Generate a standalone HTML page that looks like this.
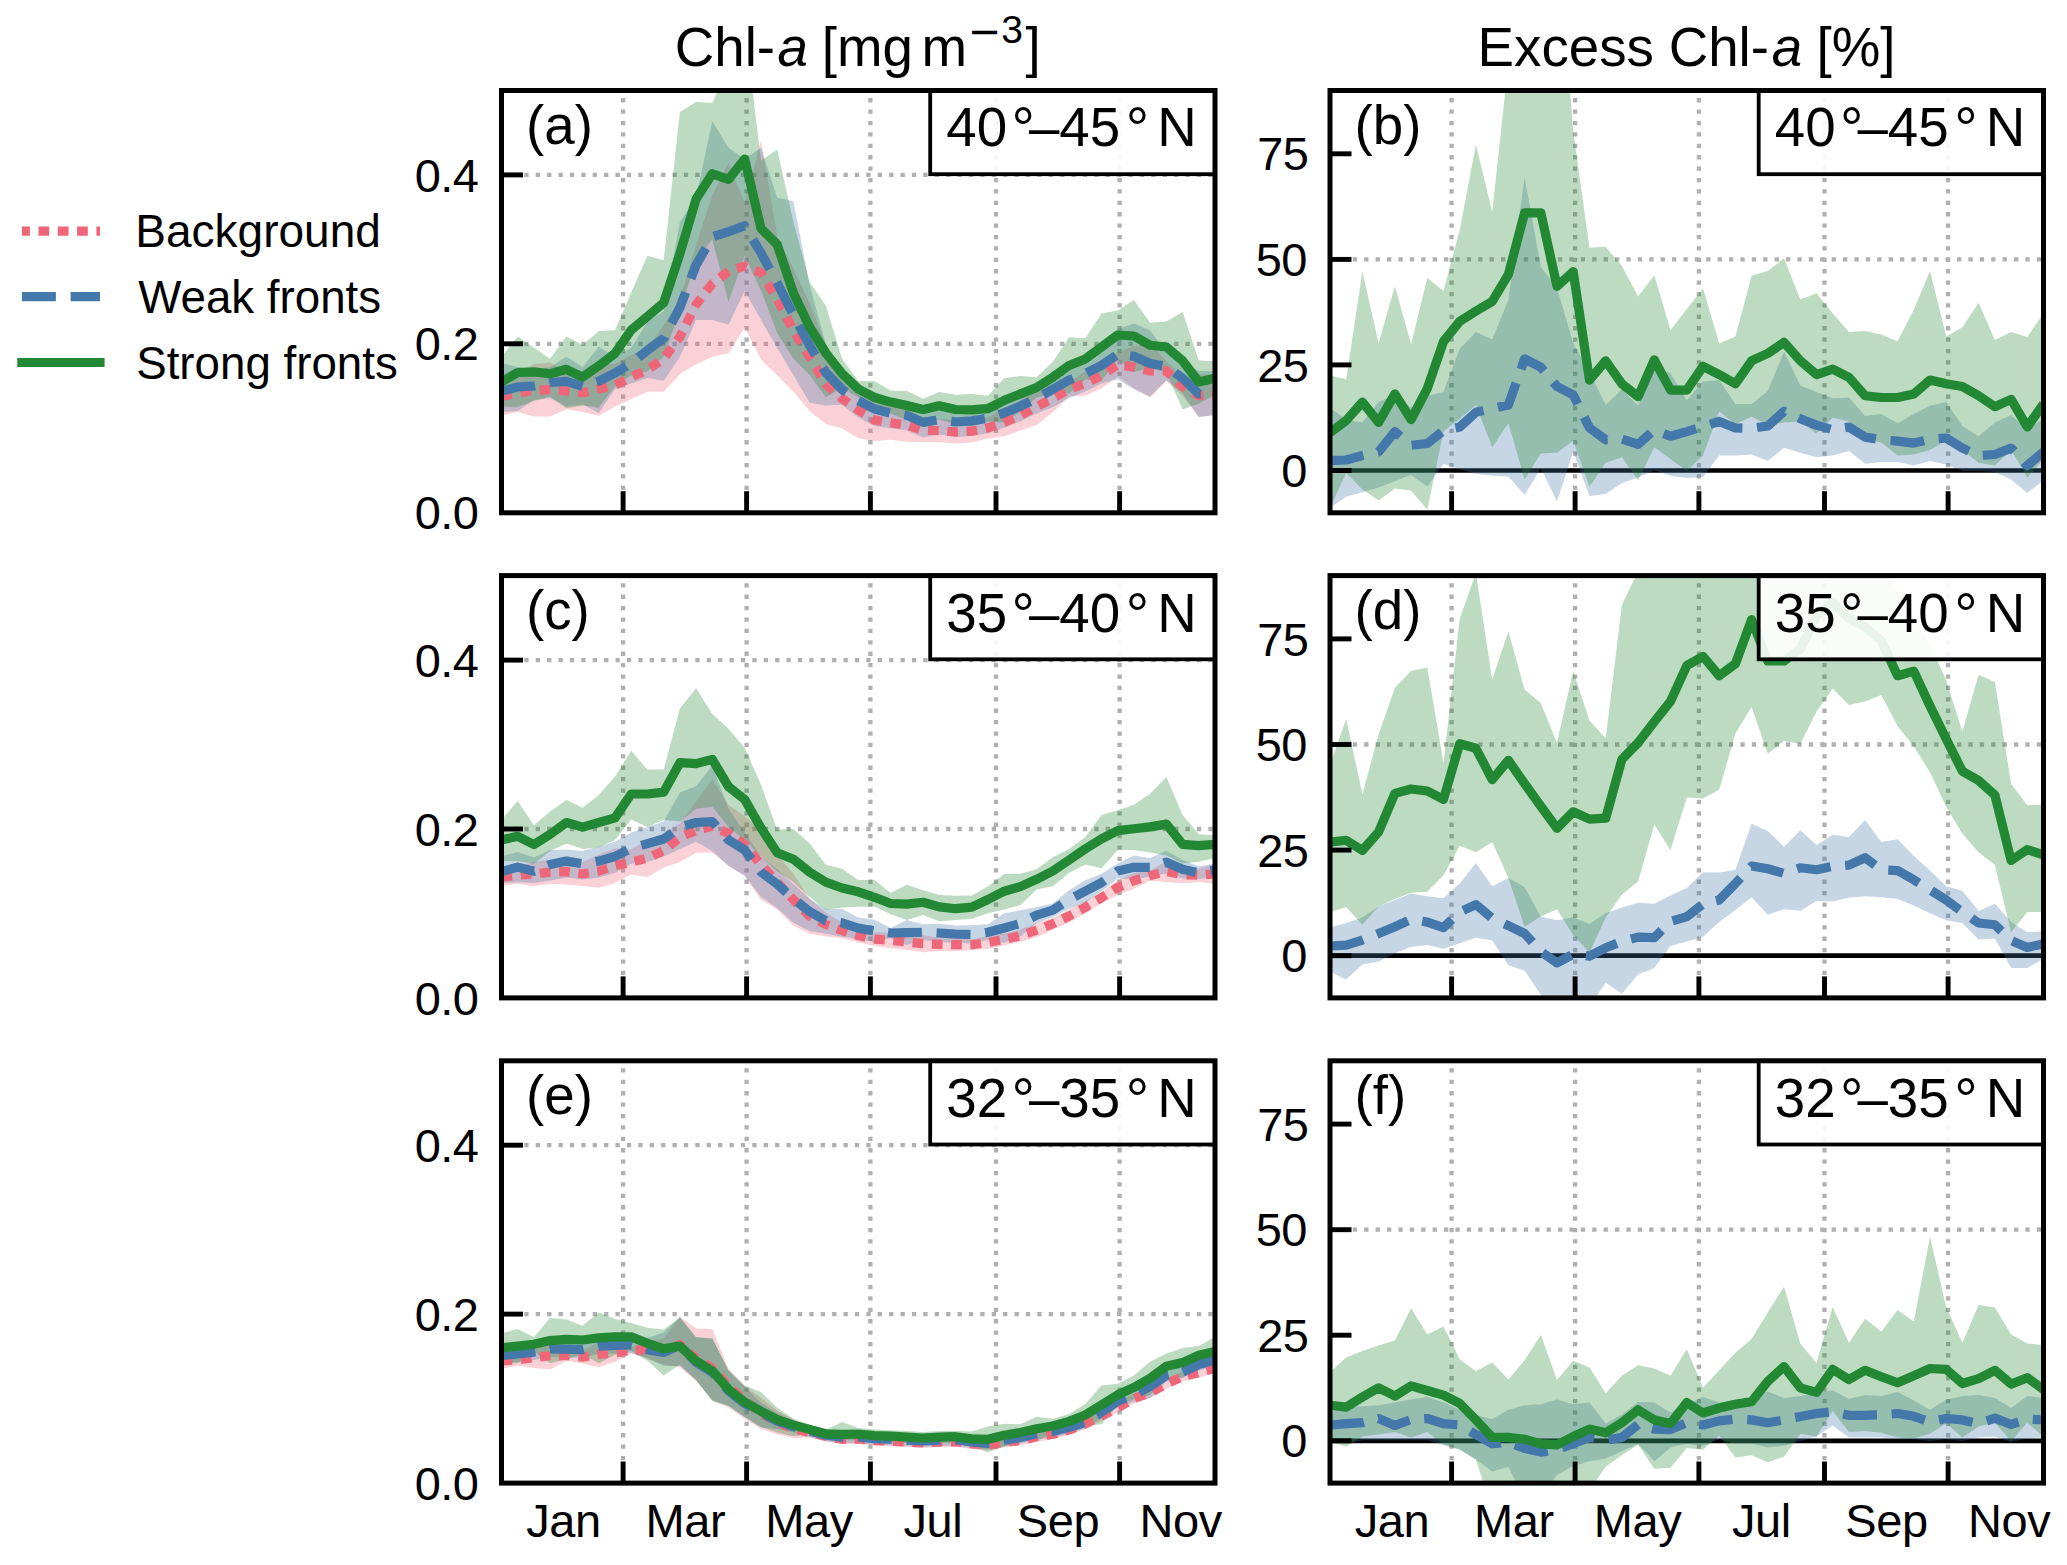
<!DOCTYPE html><html><head><meta charset="utf-8"><title>Chl-a seasonal cycles</title>
<style>html,body{margin:0;padding:0;background:#fff}svg{display:block}text{font-family:'Liberation Sans', Arial, Helvetica, sans-serif;fill:#000}</style></head><body>
<svg width="2067" height="1565" viewBox="0 0 2067 1565">
<rect width="2067" height="1565" fill="#fff"/>
<defs>
<clipPath id="cp00"><rect x="501.5" y="90.5" width="713.5" height="422.3"/></clipPath>
<clipPath id="cp01"><rect x="1330" y="90.5" width="713.5" height="422.3"/></clipPath>
<clipPath id="cp10"><rect x="501.5" y="575.6" width="713.5" height="422.3"/></clipPath>
<clipPath id="cp11"><rect x="1330" y="575.6" width="713.5" height="422.3"/></clipPath>
<clipPath id="cp20"><rect x="501.5" y="1060.8" width="713.5" height="422.3"/></clipPath>
<clipPath id="cp21"><rect x="1330" y="1060.8" width="713.5" height="422.3"/></clipPath>
</defs>
<g clip-path="url(#cp00)">
<line x1="623.1" y1="512.8" x2="623.1" y2="90.5" stroke="#b0b0b0" stroke-width="4.3" stroke-dasharray="4.3 7.1"/>
<line x1="746.6" y1="512.8" x2="746.6" y2="90.5" stroke="#b0b0b0" stroke-width="4.3" stroke-dasharray="4.3 7.1"/>
<line x1="870.4" y1="512.8" x2="870.4" y2="90.5" stroke="#b0b0b0" stroke-width="4.3" stroke-dasharray="4.3 7.1"/>
<line x1="996" y1="512.8" x2="996" y2="90.5" stroke="#b0b0b0" stroke-width="4.3" stroke-dasharray="4.3 7.1"/>
<line x1="1119.6" y1="512.8" x2="1119.6" y2="90.5" stroke="#b0b0b0" stroke-width="4.3" stroke-dasharray="4.3 7.1"/>
<line x1="501.5" y1="343.8" x2="1215" y2="343.8" stroke="#b0b0b0" stroke-width="4.3" stroke-dasharray="4.3 7.1"/>
<line x1="501.5" y1="174.9" x2="1215" y2="174.9" stroke="#b0b0b0" stroke-width="4.3" stroke-dasharray="4.3 7.1"/>
<polygon points="501.5,377.1 517.7,374 533.9,364 550.1,362.6 566.4,372.8 582.6,373.6 598.8,362.3 615,364.1 631.2,354.9 647.4,347.8 663.7,325.2 679.9,299.3 696.1,244.8 712.3,195 728.5,162.7 744.7,203 761,140.3 777.2,236 793.4,268.8 809.6,303.1 825.8,344 842,368.5 858.2,382 874.5,398.9 890.7,405.6 906.9,408.5 923.1,418 939.3,419 955.5,420.3 971.8,419.8 988,417.3 1004.2,408.6 1020.4,400.2 1036.6,388.3 1052.8,384.7 1069.1,382 1085.3,371.1 1101.5,362.6 1117.7,352.6 1133.9,346 1150.1,344.3 1166.4,360.8 1182.6,377.3 1198.8,374.5 1215,374.6 1215,415 1198.8,416.9 1182.6,395.7 1166.4,381 1150.1,397.5 1133.9,388.4 1117.7,376.4 1101.5,388.4 1085.3,395.7 1069.1,396.6 1052.8,412.3 1036.6,425.1 1020.4,430.6 1004.2,436.2 988,438.5 971.8,442.6 955.5,443.5 939.3,442.2 923.1,442.2 906.9,441.7 890.7,439.8 874.5,441.1 858.2,438 842,428.5 825.8,424 809.6,411.1 793.4,391.8 777.2,375.2 761,359.6 744.7,327.4 728.5,353.2 712.3,356.8 696.1,364.2 679.9,374.3 663.7,391.8 647.4,391.8 631.2,399.1 615,406.5 598.8,415.7 582.6,412 566.4,409.2 550.1,416.6 533.9,416.6 517.7,412 501.5,415.7" fill="#EE6677" fill-opacity="0.3"/>
<polygon points="501.5,363.3 517.7,367 533.9,369.7 550.1,367 566.4,356.8 582.6,367 598.8,346.7 615,356.8 631.2,347.7 647.4,321.9 663.7,310.9 679.9,222.3 696.1,197.3 712.3,121.2 728.5,147.8 744.7,159 761,147.8 777.2,197.8 793.4,201 809.6,285 825.8,344 842,374.5 858.2,383.5 874.5,392 890.7,398.2 906.9,400.4 923.1,407.4 939.3,404.6 955.5,407 971.8,405.9 988,403.3 1004.2,397.8 1020.4,391.2 1036.6,383.5 1052.8,371.3 1069.1,362.1 1085.3,355.6 1101.5,347.4 1117.7,329.3 1133.9,323.2 1150.1,330.5 1166.4,352.3 1182.6,363.2 1198.8,370.9 1215,371 1215,415 1198.8,416.9 1182.6,393.2 1166.4,380.3 1150.1,396.5 1133.9,389.2 1117.7,379.3 1101.5,383.4 1085.3,391.6 1069.1,398.1 1052.8,407.3 1036.6,413.5 1020.4,421.2 1004.2,427.8 988,433.3 971.8,435.9 955.5,437 939.3,434.6 923.1,437.4 906.9,430.4 890.7,428.2 874.5,426 858.2,417.5 842,404.5 825.8,405.6 809.6,402.8 793.4,375.2 777.2,347.7 761,320 744.7,290.7 728.5,324.7 712.3,320 696.1,320 679.9,356.8 663.7,380.7 647.4,378 631.2,383.5 615,389 598.8,412.9 582.6,404.6 566.4,406.5 550.1,398.2 533.9,400 517.7,411 501.5,412" fill="#4477AA" fill-opacity="0.3"/>
<polygon points="501.5,356.9 517.7,336.6 533.9,347.7 550.1,358.7 566.4,336.6 582.6,344.9 598.8,331.1 615,330.2 631.2,292.5 647.4,255.7 663.7,260.3 679.9,112.1 696.1,102 712.3,103.1 728.5,67 744.7,25 761,160.6 777.2,149.4 793.4,222 809.6,282 825.8,305.4 842,358.7 858.2,381 874.5,381 890.7,390.7 906.9,391.1 923.1,398.8 939.3,392 955.5,394.8 971.8,393.9 988,395.7 1004.2,378.2 1020.4,375.9 1036.6,377.3 1052.8,361.7 1069.1,337.2 1085.3,338.2 1101.5,313.5 1117.7,310.6 1133.9,300.1 1150.1,322.7 1166.4,321.6 1182.6,312.1 1198.8,360.4 1215,361.3 1215,395.1 1198.8,403.4 1182.6,409.5 1166.4,372.4 1150.1,367.7 1133.9,371.9 1117.7,359.4 1101.5,380.5 1085.3,379.6 1069.1,393.6 1052.8,392.9 1036.6,397.5 1020.4,411.9 1004.2,422.4 988,421.5 971.8,425.9 955.5,424.2 939.3,419.6 923.1,420.2 906.9,419.9 890.7,413.5 874.5,414 858.2,397.6 842,388 825.8,397.3 809.6,375 793.4,358.7 777.2,333 761,290.7 744.7,255.7 728.5,301.7 712.3,239.2 696.1,261 679.9,311 663.7,356.8 647.4,371.5 631.2,375.2 615,386.3 598.8,407.4 582.6,405.6 566.4,408.3 550.1,396.4 533.9,401 517.7,406.9 501.5,406.5" fill="#228833" fill-opacity="0.3"/>
<polyline points="501.5,396.4 517.7,393 533.9,390.3 550.1,389.6 566.4,391 582.6,392.8 598.8,389 615,385.3 631.2,377 647.4,369.8 663.7,358.5 679.9,336.8 696.1,304.5 712.3,283.6 728.5,271.2 744.7,266.2 761,272.6 777.2,299.2 793.4,330.3 809.6,357.1 825.8,384 842,398.5 858.2,410 874.5,420 890.7,422.7 906.9,425.1 923.1,430.1 939.3,430.6 955.5,431.9 971.8,431.2 988,427.9 1004.2,422.4 1020.4,415.4 1036.6,406.7 1052.8,398.5 1069.1,389.3 1085.3,383.4 1101.5,375.5 1117.7,364.5 1133.9,367.2 1150.1,370.9 1166.4,370.9 1182.6,386.5 1198.8,395.7 1215,394.8" fill="none" stroke="#EE6677" stroke-width="9.2" stroke-linejoin="round" stroke-dasharray="10.7 8.6"/>
<polyline points="501.5,391 517.7,387 533.9,386 550.1,382.5 566.4,381.4 582.6,386.4 598.8,381.2 615,373 631.2,363.3 647.4,350.3 663.7,338.4 679.9,307.5 696.1,265 712.3,237 728.5,231.7 744.7,225.8 761,253 777.2,283 793.4,315 809.6,345.5 825.8,372.5 842,389.5 858.2,400.5 874.5,409 890.7,413.2 906.9,415.4 923.1,422.4 939.3,419.6 955.5,422 971.8,420.9 988,418.3 1004.2,412.8 1020.4,406.2 1036.6,398.5 1052.8,389.3 1069.1,380.1 1085.3,373.6 1101.5,365.4 1117.7,354.3 1133.9,356.2 1150.1,363.5 1166.4,366.3 1182.6,378.2 1198.8,393.9 1215,393" fill="none" stroke="#4477AA" stroke-width="9.2" stroke-linejoin="round" stroke-dasharray="34 14.7"/>
<polyline points="501.5,381.9 517.7,372.5 533.9,371.9 550.1,373.8 566.4,369.3 582.6,377.1 598.8,365.8 615,353.4 631.2,330 647.4,316.5 663.7,302.7 679.9,253.7 696.1,199 712.3,173.8 728.5,179.4 744.7,159 761,228.5 777.2,244.5 793.4,293 809.6,327 825.8,353 842,373.5 858.2,389 874.5,397.5 890.7,402.1 906.9,405.5 923.1,409.5 939.3,405.8 955.5,409.5 971.8,409.9 988,408.6 1004.2,400.3 1020.4,393.9 1036.6,387.4 1052.8,377.3 1069.1,365.4 1085.3,358.9 1101.5,347 1117.7,335 1133.9,336 1150.1,345.2 1166.4,347 1182.6,360.8 1198.8,381.9 1215,378.2" fill="none" stroke="#228833" stroke-width="9.2" stroke-linejoin="round"/>
</g>
<line x1="623.1" y1="512.8" x2="623.1" y2="491.2" stroke="#000" stroke-width="4.9"/>
<line x1="746.6" y1="512.8" x2="746.6" y2="491.2" stroke="#000" stroke-width="4.9"/>
<line x1="870.4" y1="512.8" x2="870.4" y2="491.2" stroke="#000" stroke-width="4.9"/>
<line x1="996" y1="512.8" x2="996" y2="491.2" stroke="#000" stroke-width="4.9"/>
<line x1="1119.6" y1="512.8" x2="1119.6" y2="491.2" stroke="#000" stroke-width="4.9"/>
<line x1="501.5" y1="343.8" x2="523" y2="343.8" stroke="#000" stroke-width="4.9"/>
<text x="478.5" y="360.4" font-size="47" letter-spacing="-0.5" text-anchor="end">0.2</text>
<line x1="501.5" y1="174.9" x2="523" y2="174.9" stroke="#000" stroke-width="4.9"/>
<text x="478.5" y="191.5" font-size="47" letter-spacing="-0.5" text-anchor="end">0.4</text>
<text x="478.5" y="529.4" font-size="47" letter-spacing="-0.5" text-anchor="end">0.0</text>
<rect x="930.2" y="90.5" width="284.8" height="83.7" fill="#fff" fill-opacity="0.9" stroke="#000" stroke-width="3.8"/>
<rect x="501.5" y="90.5" width="713.5" height="422.3" fill="none" stroke="#000" stroke-width="5"/>
<text x="526" y="143.7" font-size="54.7">(a)</text>
<text y="146.4" font-size="54.7"><tspan x="946.3">40</tspan><tspan x="1011.5" dy="3" font-size="58.5">°</tspan><tspan x="1029.1" dy="-3">–</tspan><tspan x="1059.3">45</tspan><tspan x="1125.7" dy="3" font-size="58.5">° </tspan><tspan x="1157.2" dy="-3">N</tspan></text>
<g clip-path="url(#cp01)">
<line x1="1451.6" y1="512.8" x2="1451.6" y2="90.5" stroke="#b0b0b0" stroke-width="4.3" stroke-dasharray="4.3 7.1"/>
<line x1="1575.1" y1="512.8" x2="1575.1" y2="90.5" stroke="#b0b0b0" stroke-width="4.3" stroke-dasharray="4.3 7.1"/>
<line x1="1698.9" y1="512.8" x2="1698.9" y2="90.5" stroke="#b0b0b0" stroke-width="4.3" stroke-dasharray="4.3 7.1"/>
<line x1="1824.5" y1="512.8" x2="1824.5" y2="90.5" stroke="#b0b0b0" stroke-width="4.3" stroke-dasharray="4.3 7.1"/>
<line x1="1948.1" y1="512.8" x2="1948.1" y2="90.5" stroke="#b0b0b0" stroke-width="4.3" stroke-dasharray="4.3 7.1"/>
<line x1="1330" y1="259.4" x2="2043.5" y2="259.4" stroke="#b0b0b0" stroke-width="4.3" stroke-dasharray="4.3 7.1"/>
<line x1="1330" y1="470.5" x2="2043.5" y2="470.5" stroke="#000" stroke-width="4.7"/>
<polygon points="1330,407.7 1346.2,419.6 1362.4,422.4 1378.6,402.1 1394.9,394.8 1411.1,407.7 1427.3,395.7 1443.5,392 1459.7,348.8 1475.9,331.9 1492.2,339.6 1508.4,300 1524.6,176.9 1540.8,267 1557,288 1573.2,343.3 1589.5,371.8 1605.7,404.9 1621.9,389.3 1638.1,405.8 1654.3,366.3 1670.5,373.2 1686.8,400.3 1703,381.5 1719.2,380.1 1735.4,404 1751.6,404 1767.8,391.1 1784,351.6 1800.3,385.6 1816.5,392 1832.7,398.5 1848.9,397.5 1865.1,415.9 1881.3,414.1 1897.6,423.3 1913.8,414.1 1930,405.8 1946.2,402.1 1962.4,426 1978.6,436.2 1994.9,422.4 2011.1,415 2027.3,429.7 2043.5,418.7 2043.5,480.3 2027.3,493.1 2011.1,479.4 1994.9,472 1978.6,471.1 1962.4,471.1 1946.2,464.6 1930,461 1913.8,465.6 1897.6,461.9 1881.3,461.9 1865.1,463.7 1848.9,450.9 1832.7,455.5 1816.5,457.3 1800.3,452.7 1784,447.7 1767.8,461 1751.6,454.5 1735.4,455.5 1719.2,455.5 1703,477 1686.8,478 1670.5,475.7 1654.3,470.2 1638.1,477.5 1621.9,483 1605.7,494.1 1589.5,495.9 1573.2,451.8 1557,501.4 1540.8,468.3 1524.6,495 1508.4,476.6 1492.2,475.7 1475.9,473.8 1459.7,469.2 1443.5,463.7 1427.3,486.7 1411.1,474.8 1394.9,481.2 1378.6,487.6 1362.4,492.2 1346.2,496.8 1330,507.8" fill="#4477AA" fill-opacity="0.3"/>
<polygon points="1330,375.5 1346.2,379.2 1362.4,271.6 1378.6,343.3 1394.9,286.3 1411.1,344.2 1427.3,278 1443.5,290.9 1459.7,230.2 1475.9,144.7 1492.2,211.9 1508.4,63 1524.6,-100 1540.8,-120 1557,-78 1573.2,131 1589.5,247.7 1605.7,246.8 1621.9,266.1 1638.1,296.4 1654.3,275.3 1670.5,330.2 1686.8,309 1703,288.4 1719.2,343.5 1735.4,336.6 1751.6,275.7 1767.8,271.1 1784,258.2 1800.3,299.6 1816.5,293.2 1832.7,313.4 1848.9,332.1 1865.1,330.9 1881.3,334.5 1897.6,341.3 1913.8,309.7 1930,271.1 1946.2,336.4 1962.4,327.2 1978.6,302.7 1994.9,340 2011.1,332.1 2027.3,336.9 2043.5,313.4 2043.5,459.1 2027.3,477.5 2011.1,449.9 1994.9,465.6 1978.6,462.8 1962.4,449.9 1946.2,440.7 1930,449.9 1913.8,454.5 1897.6,455.5 1881.3,442.6 1865.1,438.9 1848.9,421.4 1832.7,417.8 1816.5,433.4 1800.3,421.4 1784,422.4 1767.8,425.1 1751.6,416.8 1735.4,424.2 1719.2,411.3 1703,455.5 1686.8,471.1 1670.5,459.1 1654.3,447.2 1638.1,480.3 1621.9,457.3 1605.7,462.8 1589.5,486.7 1573.2,440.7 1557,452.7 1540.8,453.6 1524.6,479.4 1508.4,423.3 1492.2,447.2 1475.9,404.9 1459.7,418.7 1443.5,431.6 1427.3,509.7 1411.1,490.4 1394.9,488.5 1378.6,500.5 1362.4,489.5 1346.2,472.9 1330,507.8" fill="#228833" fill-opacity="0.3"/>
<polyline points="1330,460.6 1346.2,460 1362.4,455.5 1378.6,451.8 1394.9,431.6 1411.1,445.3 1427.3,443.5 1443.5,430.6 1459.7,427 1475.9,412.3 1492.2,408.6 1508.4,404.9 1524.6,358.9 1540.8,367.2 1557,386.5 1573.2,394.8 1589.5,427.9 1605.7,439.8 1621.9,438.9 1638.1,444.4 1654.3,429.7 1670.5,436.2 1686.8,431.6 1703,426.5 1719.2,421.4 1735.4,427.9 1751.6,428.2 1767.8,426 1784,411.3 1800.3,418.7 1816.5,425.1 1832.7,429.7 1848.9,427 1865.1,437.1 1881.3,439.8 1897.6,441.1 1913.8,443.1 1930,439.3 1946.2,438 1962.4,448.1 1978.6,455.5 1994.9,454.5 2011.1,448.1 2027.3,465.6 2043.5,451.8" fill="none" stroke="#4477AA" stroke-width="9.2" stroke-linejoin="round" stroke-dasharray="34 14.7"/>
<polyline points="1330,432.5 1346.2,420.5 1362.4,402.1 1378.6,422.4 1394.9,393.9 1411.1,419.6 1427.3,388.4 1443.5,341.5 1459.7,321.3 1475.9,311.1 1492.2,301.5 1508.4,274.4 1524.6,212.8 1540.8,212.8 1557,286.3 1573.2,271.6 1589.5,380.1 1605.7,360.8 1621.9,383.8 1638.1,396.6 1654.3,359.9 1670.5,390.2 1686.8,390.2 1703,366.3 1719.2,374.6 1735.4,383.8 1751.6,360.8 1767.8,353.4 1784,342.4 1800.3,360.8 1816.5,374.6 1832.7,369.1 1848.9,377.3 1865.1,395.7 1881.3,397.5 1897.6,397.5 1913.8,393.9 1930,380.1 1946.2,383.8 1962.4,386.5 1978.6,395.7 1994.9,406.7 2011.1,399.4 2027.3,427 2043.5,404" fill="none" stroke="#228833" stroke-width="9.2" stroke-linejoin="round"/>
</g>
<line x1="1451.6" y1="512.8" x2="1451.6" y2="491.2" stroke="#000" stroke-width="4.9"/>
<line x1="1575.1" y1="512.8" x2="1575.1" y2="491.2" stroke="#000" stroke-width="4.9"/>
<line x1="1698.9" y1="512.8" x2="1698.9" y2="491.2" stroke="#000" stroke-width="4.9"/>
<line x1="1824.5" y1="512.8" x2="1824.5" y2="491.2" stroke="#000" stroke-width="4.9"/>
<line x1="1948.1" y1="512.8" x2="1948.1" y2="491.2" stroke="#000" stroke-width="4.9"/>
<line x1="1330" y1="470.5" x2="1351.5" y2="470.5" stroke="#000" stroke-width="4.9"/>
<text x="1307" y="487.1" font-size="47" letter-spacing="-0.5" text-anchor="end">0</text>
<line x1="1330" y1="364.9" x2="1351.5" y2="364.9" stroke="#000" stroke-width="4.9"/>
<text x="1308.5" y="381.5" font-size="47" letter-spacing="-0.5" text-anchor="end">25</text>
<line x1="1330" y1="259.4" x2="1351.5" y2="259.4" stroke="#000" stroke-width="4.9"/>
<text x="1307" y="276" font-size="47" letter-spacing="-0.5" text-anchor="end">50</text>
<line x1="1330" y1="153.8" x2="1351.5" y2="153.8" stroke="#000" stroke-width="4.9"/>
<text x="1308.5" y="170.4" font-size="47" letter-spacing="-0.5" text-anchor="end">75</text>
<rect x="1758.7" y="90.5" width="284.8" height="83.7" fill="#fff" fill-opacity="0.9" stroke="#000" stroke-width="3.8"/>
<rect x="1330" y="90.5" width="713.5" height="422.3" fill="none" stroke="#000" stroke-width="5"/>
<text x="1354.5" y="143.7" font-size="54.7">(b)</text>
<text y="146.4" font-size="54.7"><tspan x="1774.8">40</tspan><tspan x="1840" dy="3" font-size="58.5">°</tspan><tspan x="1857.6" dy="-3">–</tspan><tspan x="1887.8">45</tspan><tspan x="1954.2" dy="3" font-size="58.5">° </tspan><tspan x="1985.7" dy="-3">N</tspan></text>
<g clip-path="url(#cp10)">
<line x1="623.1" y1="997.9" x2="623.1" y2="575.6" stroke="#b0b0b0" stroke-width="4.3" stroke-dasharray="4.3 7.1"/>
<line x1="746.6" y1="997.9" x2="746.6" y2="575.6" stroke="#b0b0b0" stroke-width="4.3" stroke-dasharray="4.3 7.1"/>
<line x1="870.4" y1="997.9" x2="870.4" y2="575.6" stroke="#b0b0b0" stroke-width="4.3" stroke-dasharray="4.3 7.1"/>
<line x1="996" y1="997.9" x2="996" y2="575.6" stroke="#b0b0b0" stroke-width="4.3" stroke-dasharray="4.3 7.1"/>
<line x1="1119.6" y1="997.9" x2="1119.6" y2="575.6" stroke="#b0b0b0" stroke-width="4.3" stroke-dasharray="4.3 7.1"/>
<line x1="501.5" y1="829" x2="1215" y2="829" stroke="#b0b0b0" stroke-width="4.3" stroke-dasharray="4.3 7.1"/>
<line x1="501.5" y1="660.1" x2="1215" y2="660.1" stroke="#b0b0b0" stroke-width="4.3" stroke-dasharray="4.3 7.1"/>
<polygon points="501.5,868.3 517.7,866.7 533.9,861.9 550.1,860.1 566.4,858.8 582.6,862.1 598.8,854.7 615,848.3 631.2,849.5 647.4,839.5 663.7,833.7 679.9,823.4 696.1,801.3 712.3,779.3 728.5,805 744.7,816 761,829.9 777.2,854.6 793.4,874 809.6,898.7 825.8,912.5 842,922.6 858.2,928.9 874.5,932.2 890.7,932.8 906.9,933.9 923.1,934.9 939.3,937.8 955.5,938.1 971.8,939.3 988,935.9 1004.2,933.3 1020.4,929.6 1036.6,923.2 1052.8,917.8 1069.1,909.5 1085.3,901.1 1101.5,892.2 1117.7,880.1 1133.9,872.9 1150.1,870.5 1166.4,861.2 1182.6,866.1 1198.8,868.4 1215,863.7 1215,883.9 1198.8,882 1182.6,883.3 1166.4,882 1150.1,880.7 1133.9,888.5 1117.7,894.9 1101.5,903.2 1085.3,913.3 1069.1,922.5 1052.8,929.8 1036.6,937.2 1020.4,941.8 1004.2,945.5 988,949.1 971.8,950.1 955.5,951.3 939.3,951 923.1,952.3 906.9,950.1 890.7,948.2 874.5,946 858.2,942.3 842,938.2 825.8,936.5 809.6,933.7 793.4,925.4 777.2,909.8 761,899.7 744.7,875.8 728.5,865.7 712.3,852.4 696.1,852.8 679.9,862 663.7,867.5 647.4,877.1 631.2,874.5 615,883.1 598.8,887.7 582.6,885.9 566.4,884.4 550.1,884.1 533.9,886.3 517.7,883.7 501.5,885.9" fill="#EE6677" fill-opacity="0.3"/>
<polygon points="501.5,856.5 517.7,851.9 533.9,857.4 550.1,850 566.4,849.5 582.6,851 598.8,846.4 615,841.8 631.2,832.6 647.4,827.1 663.7,821.6 679.9,792.5 696.1,786.3 712.3,765.5 728.5,808.7 744.7,832.6 761,856.5 777.2,869.4 793.4,884.1 809.6,898.8 825.8,908.9 842,908.8 858.2,917.5 874.5,919.8 890.7,928 906.9,920.1 923.1,924.3 939.3,923.8 955.5,925.6 971.8,925.2 988,924.3 1004.2,913.3 1020.4,910.2 1036.6,906.9 1052.8,903.5 1069.1,890.3 1085.3,880.2 1101.5,873.8 1117.7,863.6 1133.9,855.4 1150.1,858.1 1166.4,850.8 1182.6,860 1198.8,866.4 1215,863.6 1215,876.6 1198.8,879.2 1182.6,878.4 1166.4,873.6 1150.1,876.5 1133.9,879.2 1117.7,878.4 1101.5,891.4 1085.3,902.2 1069.1,908.7 1052.8,916.9 1036.6,923.3 1020.4,936.6 1004.2,942.7 988,940.1 971.8,943.6 955.5,942.6 939.3,942.2 923.1,940.1 906.9,945.1 890.7,938 874.5,942.2 858.2,938.7 842,936.8 825.8,933.7 809.6,930.9 793.4,922.7 777.2,908 761,896.9 744.7,875.8 728.5,865.7 712.3,851 696.1,841.8 679.9,849.1 663.7,856.5 647.4,862 631.2,863.8 615,873 598.8,877.6 582.6,879.5 566.4,877.6 550.1,880.4 533.9,883.1 517.7,882.2 501.5,883.1" fill="#4477AA" fill-opacity="0.3"/>
<polygon points="501.5,819.7 517.7,801 533.9,825.2 550.1,811.4 566.4,799.9 582.6,807.8 598.8,794.9 615,776.5 631.2,750.8 647.4,769.5 663.7,769.5 679.9,708.5 696.1,688.3 712.3,714 728.5,728.7 744.7,748 761,784.8 777.2,829.8 793.4,828.9 809.6,843.6 825.8,864.8 842,868.8 858.2,880.1 874.5,879.9 890.7,893.1 906.9,884.8 923.1,890.3 939.3,894.9 955.5,895.8 971.8,895.5 988,886.6 1004.2,874.1 1020.4,873.8 1036.6,869.2 1052.8,857.2 1069.1,848.9 1085.3,837 1101.5,814.9 1117.7,810.3 1133.9,804.8 1150.1,793.8 1166.4,777 1182.6,814.9 1198.8,834.2 1215,835.2 1215,858.1 1198.8,861.8 1182.6,863.6 1166.4,855.4 1150.1,852.6 1133.9,849.9 1117.7,849.9 1101.5,868.2 1085.3,864.6 1069.1,872.8 1052.8,886.3 1036.6,889.4 1020.4,905 1004.2,909.6 988,913.3 971.8,918.8 955.5,920.1 939.3,921.2 923.1,915.1 906.9,920.1 890.7,914.2 874.5,906.5 858.2,906.8 842,907.5 825.8,909.8 809.6,896.9 793.4,882.2 777.2,871.2 761,856.5 744.7,840 728.5,827.1 712.3,806.8 696.1,808.7 679.9,821.6 663.7,819.7 647.4,827.1 631.2,819.4 615,839.9 598.8,847.3 582.6,849.1 566.4,843.6 550.1,851 533.9,863.8 517.7,861.1 501.5,861.1" fill="#228833" fill-opacity="0.3"/>
<polyline points="501.5,877.1 517.7,875.2 533.9,874.1 550.1,872.1 566.4,871.6 582.6,874 598.8,871.2 615,865.7 631.2,862 647.4,858.3 663.7,850.6 679.9,837.2 696.1,830.4 712.3,826.2 728.5,833.5 744.7,844.5 761,864.8 777.2,882.2 793.4,899.7 809.6,916.2 825.8,924.5 842,930.4 858.2,935.6 874.5,939.1 890.7,940.5 906.9,942 923.1,943.6 939.3,944.4 955.5,944.7 971.8,944.7 988,942.5 1004.2,939.4 1020.4,935.7 1036.6,930.2 1052.8,923.8 1069.1,916 1085.3,907.2 1101.5,897.7 1117.7,887.5 1133.9,880.7 1150.1,875.6 1166.4,871.6 1182.6,874.7 1198.8,875.2 1215,873.8" fill="none" stroke="#EE6677" stroke-width="9.2" stroke-linejoin="round" stroke-dasharray="10.7 8.6"/>
<polyline points="501.5,871.6 517.7,867.1 533.9,871.2 550.1,864.4 566.4,861.1 582.6,863.8 598.8,861.1 615,856.5 631.2,848.2 647.4,843.6 663.7,839 679.9,827.1 696.1,822.5 712.3,821.6 728.5,839.9 744.7,850 761,872.1 777.2,884.1 793.4,898.8 809.6,911.6 825.8,920.8 842,922.8 858.2,928.1 874.5,931 890.7,933 906.9,932.6 923.1,932.2 939.3,933 955.5,934.1 971.8,934.4 988,932.2 1004.2,928 1020.4,923.4 1036.6,915.1 1052.8,910.2 1069.1,899.5 1085.3,891.2 1101.5,882.6 1117.7,871 1133.9,867.3 1150.1,867.3 1166.4,862.2 1182.6,869.2 1198.8,872.8 1215,870.1" fill="none" stroke="#4477AA" stroke-width="9.2" stroke-linejoin="round" stroke-dasharray="34 14.7"/>
<polyline points="501.5,839.9 517.7,836.3 533.9,844.5 550.1,834.4 566.4,822.5 582.6,827.1 598.8,822.5 615,817.9 631.2,794 647.4,794 663.7,792.1 679.9,762.7 696.1,763.6 712.3,759.4 728.5,786.6 744.7,799.5 761,828 777.2,852.8 793.4,859.2 809.6,872.1 825.8,882.2 842,888 858.2,891.8 874.5,897.3 890.7,903.5 906.9,904.1 923.1,902.3 939.3,906.9 955.5,908.7 971.8,907.2 988,899.5 1004.2,891.2 1020.4,886.6 1036.6,879.3 1052.8,871 1069.1,860 1085.3,848.9 1101.5,838.8 1117.7,830.6 1133.9,828.7 1150.1,826.9 1166.4,824.1 1182.6,844.3 1198.8,845.6 1215,844.3" fill="none" stroke="#228833" stroke-width="9.2" stroke-linejoin="round"/>
</g>
<line x1="623.1" y1="997.9" x2="623.1" y2="976.4" stroke="#000" stroke-width="4.9"/>
<line x1="746.6" y1="997.9" x2="746.6" y2="976.4" stroke="#000" stroke-width="4.9"/>
<line x1="870.4" y1="997.9" x2="870.4" y2="976.4" stroke="#000" stroke-width="4.9"/>
<line x1="996" y1="997.9" x2="996" y2="976.4" stroke="#000" stroke-width="4.9"/>
<line x1="1119.6" y1="997.9" x2="1119.6" y2="976.4" stroke="#000" stroke-width="4.9"/>
<line x1="501.5" y1="829" x2="523" y2="829" stroke="#000" stroke-width="4.9"/>
<text x="478.5" y="845.6" font-size="47" letter-spacing="-0.5" text-anchor="end">0.2</text>
<line x1="501.5" y1="660.1" x2="523" y2="660.1" stroke="#000" stroke-width="4.9"/>
<text x="478.5" y="676.7" font-size="47" letter-spacing="-0.5" text-anchor="end">0.4</text>
<text x="478.5" y="1014.5" font-size="47" letter-spacing="-0.5" text-anchor="end">0.0</text>
<rect x="930.2" y="575.6" width="284.8" height="83.7" fill="#fff" fill-opacity="0.9" stroke="#000" stroke-width="3.8"/>
<rect x="501.5" y="575.6" width="713.5" height="422.3" fill="none" stroke="#000" stroke-width="5"/>
<text x="526" y="628.8" font-size="54.7">(c)</text>
<text y="631.6" font-size="54.7"><tspan x="946.3">35</tspan><tspan x="1011.5" dy="3" font-size="58.5">°</tspan><tspan x="1029.1" dy="-3">–</tspan><tspan x="1059.3">40</tspan><tspan x="1125.7" dy="3" font-size="58.5">° </tspan><tspan x="1157.2" dy="-3">N</tspan></text>
<g clip-path="url(#cp11)">
<line x1="1451.6" y1="997.9" x2="1451.6" y2="575.6" stroke="#b0b0b0" stroke-width="4.3" stroke-dasharray="4.3 7.1"/>
<line x1="1575.1" y1="997.9" x2="1575.1" y2="575.6" stroke="#b0b0b0" stroke-width="4.3" stroke-dasharray="4.3 7.1"/>
<line x1="1698.9" y1="997.9" x2="1698.9" y2="575.6" stroke="#b0b0b0" stroke-width="4.3" stroke-dasharray="4.3 7.1"/>
<line x1="1824.5" y1="997.9" x2="1824.5" y2="575.6" stroke="#b0b0b0" stroke-width="4.3" stroke-dasharray="4.3 7.1"/>
<line x1="1948.1" y1="997.9" x2="1948.1" y2="575.6" stroke="#b0b0b0" stroke-width="4.3" stroke-dasharray="4.3 7.1"/>
<line x1="1330" y1="744.5" x2="2043.5" y2="744.5" stroke="#b0b0b0" stroke-width="4.3" stroke-dasharray="4.3 7.1"/>
<line x1="1330" y1="955.7" x2="2043.5" y2="955.7" stroke="#000" stroke-width="4.7"/>
<polygon points="1330,927.6 1346.2,923 1362.4,917.5 1378.6,906.4 1394.9,900 1411.1,893.6 1427.3,896.3 1443.5,898.2 1459.7,883.5 1475.9,862.9 1492.2,886.2 1508.4,878 1524.6,887.1 1540.8,916.6 1557,920.2 1573.2,917.5 1589.5,923.9 1605.7,912.9 1621.9,907.4 1638.1,902.8 1654.3,903.7 1670.5,895.4 1686.8,888.1 1703,872.2 1719.2,872.4 1735.4,869.7 1751.6,823.7 1767.8,831.1 1784,846.7 1800.3,830.2 1816.5,844.9 1832.7,834.7 1848.9,837.1 1865.1,820 1881.3,842.1 1897.6,839.3 1913.8,855.9 1930,870.6 1946.2,886.2 1962.4,890.8 1978.6,911 1994.9,903.7 2011.1,922.1 2027.3,932.2 2043.5,931.3 2043.5,958.8 2027.3,968 2011.1,968 1994.9,938.6 1978.6,939.5 1962.4,923 1946.2,920.2 1930,913.2 1913.8,905.5 1897.6,899.1 1881.3,897.3 1865.1,896.3 1848.9,897.8 1832.7,901.5 1816.5,900.9 1800.3,910.7 1784,909.2 1767.8,914.7 1751.6,897.3 1735.4,910.1 1719.2,922.1 1703,936.8 1686.8,941.4 1670.5,946 1654.3,968 1638.1,974.5 1621.9,993.8 1605.7,982.7 1589.5,1006 1573.2,1012 1557,1014 1540.8,994.7 1524.6,970.8 1508.4,965.3 1492.2,940.5 1475.9,937.7 1459.7,943.2 1443.5,948.7 1427.3,945.1 1411.1,946.9 1394.9,953.3 1378.6,961.6 1362.4,964.4 1346.2,979.4 1330,971.7" fill="#4477AA" fill-opacity="0.3"/>
<polygon points="1330,764.9 1346.2,718.9 1362.4,794.3 1378.6,734.5 1394.9,687.7 1411.1,671.1 1427.3,667.4 1443.5,763 1459.7,618.7 1475.9,573 1492.2,679.4 1508.4,631.6 1524.6,689.5 1540.8,703.3 1557,742.8 1573.2,671.1 1589.5,720.7 1605.7,738.2 1621.9,604.9 1638.1,571 1654.3,520 1670.5,500 1686.8,480 1703,470 1719.2,470 1735.4,470 1751.6,470 1767.8,470 1784,470 1800.3,470 1816.5,470 1832.7,470 1848.9,480 1865.1,500 1881.3,560 1897.6,593 1913.8,618.3 1930,643.9 1946.2,680.3 1962.4,731.8 1978.6,674.8 1994.9,682.1 2011.1,784 2027.3,805.3 2043.5,804.4 2043.5,912 2027.3,912 2011.1,932.2 1994.9,865.1 1978.6,852.2 1962.4,833.8 1946.2,806.8 1930,772.2 1913.8,746.5 1897.6,726.3 1881.3,695 1865.1,701.4 1848.9,705.1 1832.7,688.6 1816.5,711.6 1800.3,743.7 1784,741 1767.8,753.8 1751.6,707 1735.4,733.6 1719.2,789.7 1703,798.5 1686.8,797.6 1670.5,850 1654.3,824.6 1638.1,881.6 1621.9,894.5 1605.7,917.5 1589.5,952.4 1573.2,934.9 1557,909.2 1540.8,916.6 1524.6,926.7 1508.4,878 1492.2,842.1 1475.9,852.2 1459.7,845.8 1443.5,875.2 1427.3,891.7 1411.1,892.7 1394.9,899.1 1378.6,906.4 1362.4,924.8 1346.2,907 1330,912" fill="#228833" fill-opacity="0.3"/>
<polyline points="1330,946 1346.2,945.1 1362.4,940.1 1378.6,933.5 1394.9,926.7 1411.1,919.3 1427.3,922.1 1443.5,927.6 1459.7,912 1475.9,904.6 1492.2,918.4 1508.4,925.7 1524.6,933.5 1540.8,951.5 1557,962.9 1573.2,954.2 1589.5,956.1 1605.7,947.8 1621.9,941.4 1638.1,937.1 1654.3,937.7 1670.5,921.5 1686.8,916.6 1703,904.2 1719.2,900 1735.4,883.5 1751.6,866 1767.8,868.8 1784,873.4 1800.3,867.8 1816.5,869.7 1832.7,866.4 1848.9,865.1 1865.1,857.7 1881.3,869.7 1897.6,870.6 1913.8,879.8 1930,889.9 1946.2,900 1962.4,912 1978.6,923 1994.9,924.8 2011.1,940.5 2027.3,947.4 2043.5,943.8" fill="none" stroke="#4477AA" stroke-width="9.2" stroke-linejoin="round" stroke-dasharray="34 14.7"/>
<polyline points="1330,842.1 1346.2,840.3 1362.4,850.4 1378.6,832 1394.9,793.4 1411.1,789 1427.3,791 1443.5,799.3 1459.7,743.7 1475.9,748.3 1492.2,779.6 1508.4,760.3 1524.6,783.7 1540.8,806.3 1557,828.3 1573.2,811.8 1589.5,819.1 1605.7,818.2 1621.9,759.4 1638.1,742.8 1654.3,721.7 1670.5,701.4 1686.8,665.6 1703,656.4 1719.2,675.7 1735.4,663.8 1751.6,619.6 1767.8,661 1784,661 1800.3,649.1 1816.5,616 1832.7,602.2 1848.9,618.7 1865.1,627 1881.3,640.8 1897.6,675.7 1913.8,671.1 1930,706 1946.2,739.1 1962.4,771.3 1978.6,780.5 1994.9,795.2 2011.1,860.5 2027.3,849.5 2043.5,855" fill="none" stroke="#228833" stroke-width="9.2" stroke-linejoin="round"/>
</g>
<line x1="1451.6" y1="997.9" x2="1451.6" y2="976.4" stroke="#000" stroke-width="4.9"/>
<line x1="1575.1" y1="997.9" x2="1575.1" y2="976.4" stroke="#000" stroke-width="4.9"/>
<line x1="1698.9" y1="997.9" x2="1698.9" y2="976.4" stroke="#000" stroke-width="4.9"/>
<line x1="1824.5" y1="997.9" x2="1824.5" y2="976.4" stroke="#000" stroke-width="4.9"/>
<line x1="1948.1" y1="997.9" x2="1948.1" y2="976.4" stroke="#000" stroke-width="4.9"/>
<line x1="1330" y1="955.7" x2="1351.5" y2="955.7" stroke="#000" stroke-width="4.9"/>
<text x="1307" y="972.3" font-size="47" letter-spacing="-0.5" text-anchor="end">0</text>
<line x1="1330" y1="850.1" x2="1351.5" y2="850.1" stroke="#000" stroke-width="4.9"/>
<text x="1308.5" y="866.7" font-size="47" letter-spacing="-0.5" text-anchor="end">25</text>
<line x1="1330" y1="744.5" x2="1351.5" y2="744.5" stroke="#000" stroke-width="4.9"/>
<text x="1307" y="761.1" font-size="47" letter-spacing="-0.5" text-anchor="end">50</text>
<line x1="1330" y1="638.9" x2="1351.5" y2="638.9" stroke="#000" stroke-width="4.9"/>
<text x="1308.5" y="655.5" font-size="47" letter-spacing="-0.5" text-anchor="end">75</text>
<rect x="1758.7" y="575.6" width="284.8" height="83.7" fill="#fff" fill-opacity="0.9" stroke="#000" stroke-width="3.8"/>
<rect x="1330" y="575.6" width="713.5" height="422.3" fill="none" stroke="#000" stroke-width="5"/>
<text x="1354.5" y="628.8" font-size="54.7">(d)</text>
<text y="631.6" font-size="54.7"><tspan x="1774.8">35</tspan><tspan x="1840" dy="3" font-size="58.5">°</tspan><tspan x="1857.6" dy="-3">–</tspan><tspan x="1887.8">40</tspan><tspan x="1954.2" dy="3" font-size="58.5">° </tspan><tspan x="1985.7" dy="-3">N</tspan></text>
<g clip-path="url(#cp20)">
<line x1="623.1" y1="1483" x2="623.1" y2="1060.8" stroke="#b0b0b0" stroke-width="4.3" stroke-dasharray="4.3 7.1"/>
<line x1="746.6" y1="1483" x2="746.6" y2="1060.8" stroke="#b0b0b0" stroke-width="4.3" stroke-dasharray="4.3 7.1"/>
<line x1="870.4" y1="1483" x2="870.4" y2="1060.8" stroke="#b0b0b0" stroke-width="4.3" stroke-dasharray="4.3 7.1"/>
<line x1="996" y1="1483" x2="996" y2="1060.8" stroke="#b0b0b0" stroke-width="4.3" stroke-dasharray="4.3 7.1"/>
<line x1="1119.6" y1="1483" x2="1119.6" y2="1060.8" stroke="#b0b0b0" stroke-width="4.3" stroke-dasharray="4.3 7.1"/>
<line x1="501.5" y1="1314.1" x2="1215" y2="1314.1" stroke="#b0b0b0" stroke-width="4.3" stroke-dasharray="4.3 7.1"/>
<line x1="501.5" y1="1145.2" x2="1215" y2="1145.2" stroke="#b0b0b0" stroke-width="4.3" stroke-dasharray="4.3 7.1"/>
<polygon points="501.5,1352.6 517.7,1354.4 533.9,1347.3 550.1,1342.2 566.4,1350.4 582.6,1350.7 598.8,1341.4 615,1344.1 631.2,1347.2 647.4,1340.5 663.7,1338.7 679.9,1316.7 696.1,1328.6 712.3,1329 728.5,1369 744.7,1386 761,1397.6 777.2,1410.5 793.4,1419.6 809.6,1427.5 825.8,1431.2 842,1434.3 858.2,1434 874.5,1435.6 890.7,1436.2 906.9,1437.1 923.1,1438 939.3,1437.1 955.5,1436.7 971.8,1438.9 988,1440.3 1004.2,1437.2 1020.4,1435.5 1036.6,1431.8 1052.8,1429.3 1069.1,1424.9 1085.3,1419 1101.5,1410.9 1117.7,1402.8 1133.9,1393.4 1150.1,1388 1166.4,1378.8 1182.6,1371.6 1198.8,1367.7 1215,1363.1 1215,1373.1 1198.8,1377.7 1182.6,1381.6 1166.4,1388.8 1150.1,1398 1133.9,1403.4 1117.7,1412.8 1101.5,1420.9 1085.3,1429 1069.1,1434.9 1052.8,1439.3 1036.6,1441.8 1020.4,1445.5 1004.2,1447.2 988,1450.3 971.8,1448.9 955.5,1446.7 939.3,1447.1 923.1,1448 906.9,1447.1 890.7,1446.2 874.5,1445.6 858.2,1444 842,1444.3 825.8,1441.2 809.6,1437.5 793.4,1438 777.2,1434.3 761,1428.8 744.7,1418.7 728.5,1407.7 712.3,1400.3 696.1,1381 679.9,1367.2 663.7,1364.5 647.4,1358.9 631.2,1353.4 615,1361.7 598.8,1367.2 582.6,1363.5 566.4,1360.8 550.1,1369.4 533.9,1368.1 517.7,1365.4 501.5,1369" fill="#EE6677" fill-opacity="0.3"/>
<polygon points="501.5,1347.3 517.7,1346 533.9,1344.1 550.1,1340.8 566.4,1341.2 582.6,1341.7 598.8,1338.1 615,1337.5 631.2,1336.8 647.4,1337.7 663.7,1332.5 679.9,1317.2 696.1,1337.4 712.3,1338.2 728.5,1371 744.7,1387 761,1402.8 777.2,1413.1 793.4,1420.6 809.6,1424.9 825.8,1429.3 842,1431.3 858.2,1431 874.5,1432.6 890.7,1433.2 906.9,1434.1 923.1,1435 939.3,1434.1 955.5,1433.7 971.8,1435.9 988,1437.3 1004.2,1434.2 1020.4,1431.5 1036.6,1427.8 1052.8,1425.5 1069.1,1421.4 1085.3,1416.4 1101.5,1406.3 1117.7,1395.2 1133.9,1388.8 1150.1,1380.5 1166.4,1369.5 1182.6,1366.1 1198.8,1358.5 1215,1353.9 1215,1365.9 1198.8,1370.5 1182.6,1378.1 1166.4,1381.5 1150.1,1398 1133.9,1402 1117.7,1407.2 1101.5,1418.3 1085.3,1428.4 1069.1,1433.4 1052.8,1437.5 1036.6,1439.8 1020.4,1443.5 1004.2,1446.2 988,1449.3 971.8,1447.9 955.5,1445.7 939.3,1446.1 923.1,1447 906.9,1446.1 890.7,1445.2 874.5,1444.6 858.2,1443 842,1443.3 825.8,1441.3 809.6,1436.9 793.4,1432.6 777.2,1429.1 761,1427.5 744.7,1417 728.5,1406 712.3,1400 696.1,1380 679.9,1366 663.7,1366 647.4,1358 631.2,1352.8 615,1353.5 598.8,1354.1 582.6,1357.7 566.4,1357.2 550.1,1356.8 533.9,1360.1 517.7,1362 501.5,1363.3" fill="#4477AA" fill-opacity="0.3"/>
<polygon points="501.5,1333.2 517.7,1329 533.9,1336.9 550.1,1317.9 566.4,1319.4 582.6,1325.8 598.8,1312.4 615,1319 631.2,1323.1 647.4,1327.7 663.7,1329.5 679.9,1317.6 696.1,1336.9 712.3,1338.7 728.5,1370 744.7,1385.6 761,1392 777.2,1407.7 793.4,1418.7 809.6,1425.1 825.8,1429.7 842,1422 858.2,1427.9 874.5,1429.6 890.7,1430.2 906.9,1431.1 923.1,1432 939.3,1431.1 955.5,1430.7 971.8,1431.6 988,1426.4 1004.2,1423.8 1020.4,1424.2 1036.6,1416.8 1052.8,1418.7 1069.1,1414.1 1085.3,1404 1101.5,1385.6 1117.7,1383.8 1133.9,1375.5 1150.1,1361.7 1166.4,1353.4 1182.6,1347.9 1198.8,1346.1 1215,1336.9 1215,1366.3 1198.8,1364.5 1182.6,1377.3 1166.4,1379.2 1150.1,1394.7 1133.9,1399.3 1117.7,1405.8 1101.5,1424.2 1085.3,1426 1069.1,1428.7 1052.8,1433.3 1036.6,1440.8 1020.4,1440.8 1004.2,1446.6 988,1452.2 971.8,1446.2 955.5,1442.7 939.3,1443.1 923.1,1444 906.9,1443.1 890.7,1442.2 874.5,1441.6 858.2,1440.1 842,1440.5 825.8,1437.9 809.6,1433.7 793.4,1436.2 777.2,1432.5 761,1427 744.7,1416.9 728.5,1405.8 712.3,1401.2 696.1,1380.1 679.9,1364.5 663.7,1375.5 647.4,1360.8 631.2,1350.7 615,1354.8 598.8,1363.2 582.6,1354.2 566.4,1359.2 550.1,1363.3 533.9,1351.5 517.7,1363.2 501.5,1362.6" fill="#228833" fill-opacity="0.3"/>
<polyline points="501.5,1360.8 517.7,1359.9 533.9,1357.7 550.1,1355.8 566.4,1355.6 582.6,1357.1 598.8,1354.3 615,1352.9 631.2,1350.3 647.4,1349.7 663.7,1351.6 679.9,1344.5 696.1,1358.5 712.3,1368.5 728.5,1386.5 744.7,1400.5 761,1413.2 777.2,1422.4 793.4,1428.8 809.6,1432.5 825.8,1436.2 842,1439.3 858.2,1439 874.5,1440.6 890.7,1441.2 906.9,1442.1 923.1,1443 939.3,1442.1 955.5,1441.7 971.8,1443.9 988,1445.3 1004.2,1442.2 1020.4,1440.5 1036.6,1436.8 1052.8,1434.3 1069.1,1429.9 1085.3,1424 1101.5,1415.9 1117.7,1407.8 1133.9,1398.4 1150.1,1393 1166.4,1383.8 1182.6,1376.6 1198.8,1372.7 1215,1368.1" fill="none" stroke="#EE6677" stroke-width="9.2" stroke-linejoin="round" stroke-dasharray="10.7 8.6"/>
<polyline points="501.5,1355.3 517.7,1354 533.9,1352.1 550.1,1348.8 566.4,1349.2 582.6,1349.7 598.8,1346.1 615,1345.5 631.2,1344.8 647.4,1349.7 663.7,1352.5 679.9,1345.2 696.1,1362.3 712.3,1372.4 728.5,1390.8 744.7,1403.6 761,1412.8 777.2,1421.1 793.4,1426.6 809.6,1430.9 825.8,1435.3 842,1437.3 858.2,1437 874.5,1438.6 890.7,1439.2 906.9,1440.1 923.1,1441 939.3,1440.1 955.5,1439.7 971.8,1441.9 988,1443.3 1004.2,1440.2 1020.4,1437.5 1036.6,1433.8 1052.8,1431.5 1069.1,1427.4 1085.3,1422.4 1101.5,1412.3 1117.7,1401.2 1133.9,1394.8 1150.1,1386.5 1166.4,1375.5 1182.6,1372.1 1198.8,1364.5 1215,1359.9" fill="none" stroke="#4477AA" stroke-width="9.2" stroke-linejoin="round" stroke-dasharray="34 14.7"/>
<polyline points="501.5,1347.9 517.7,1346.1 533.9,1344.2 550.1,1340.6 566.4,1339.3 582.6,1340 598.8,1337.8 615,1336.9 631.2,1336.9 647.4,1343.3 663.7,1348.8 679.9,1346.1 696.1,1360.8 712.3,1370.9 728.5,1389.3 744.7,1402.1 761,1411.3 777.2,1419.6 793.4,1425.1 809.6,1429.4 825.8,1433.8 842,1434.3 858.2,1434 874.5,1435.6 890.7,1436.2 906.9,1437.1 923.1,1438 939.3,1437.1 955.5,1436.7 971.8,1438.9 988,1439.3 1004.2,1435.2 1020.4,1432.5 1036.6,1428.8 1052.8,1426 1069.1,1421.4 1085.3,1415 1101.5,1404.9 1117.7,1394.8 1133.9,1387.4 1150.1,1378.2 1166.4,1366.3 1182.6,1362.6 1198.8,1355.3 1215,1351.6" fill="none" stroke="#228833" stroke-width="9.2" stroke-linejoin="round"/>
</g>
<line x1="623.1" y1="1483" x2="623.1" y2="1461.5" stroke="#000" stroke-width="4.9"/>
<line x1="746.6" y1="1483" x2="746.6" y2="1461.5" stroke="#000" stroke-width="4.9"/>
<line x1="870.4" y1="1483" x2="870.4" y2="1461.5" stroke="#000" stroke-width="4.9"/>
<line x1="996" y1="1483" x2="996" y2="1461.5" stroke="#000" stroke-width="4.9"/>
<line x1="1119.6" y1="1483" x2="1119.6" y2="1461.5" stroke="#000" stroke-width="4.9"/>
<line x1="501.5" y1="1314.1" x2="523" y2="1314.1" stroke="#000" stroke-width="4.9"/>
<text x="478.5" y="1330.7" font-size="47" letter-spacing="-0.5" text-anchor="end">0.2</text>
<line x1="501.5" y1="1145.2" x2="523" y2="1145.2" stroke="#000" stroke-width="4.9"/>
<text x="478.5" y="1161.8" font-size="47" letter-spacing="-0.5" text-anchor="end">0.4</text>
<text x="478.5" y="1499.6" font-size="47" letter-spacing="-0.5" text-anchor="end">0.0</text>
<rect x="930.2" y="1060.8" width="284.8" height="83.7" fill="#fff" fill-opacity="0.9" stroke="#000" stroke-width="3.8"/>
<rect x="501.5" y="1060.8" width="713.5" height="422.3" fill="none" stroke="#000" stroke-width="5"/>
<text x="526" y="1114" font-size="54.7">(e)</text>
<text y="1116.8" font-size="54.7"><tspan x="946.3">32</tspan><tspan x="1011.5" dy="3" font-size="58.5">°</tspan><tspan x="1029.1" dy="-3">–</tspan><tspan x="1059.3">35</tspan><tspan x="1125.7" dy="3" font-size="58.5">° </tspan><tspan x="1157.2" dy="-3">N</tspan></text>
<text x="526.2" y="1537.2" font-size="47" letter-spacing="-0.4">Jan</text>
<text x="645.5" y="1537.2" font-size="47" letter-spacing="-0.4">Mar</text>
<text x="765.2" y="1537.2" font-size="47" letter-spacing="-0.4">May</text>
<text x="903.4" y="1537.2" font-size="47" letter-spacing="-0.4">Jul</text>
<text x="1016.8" y="1537.2" font-size="47" letter-spacing="-0.4">Sep</text>
<text x="1139.4" y="1537.2" font-size="47" letter-spacing="-0.4">Nov</text>
<g clip-path="url(#cp21)">
<line x1="1451.6" y1="1483" x2="1451.6" y2="1060.8" stroke="#b0b0b0" stroke-width="4.3" stroke-dasharray="4.3 7.1"/>
<line x1="1575.1" y1="1483" x2="1575.1" y2="1060.8" stroke="#b0b0b0" stroke-width="4.3" stroke-dasharray="4.3 7.1"/>
<line x1="1698.9" y1="1483" x2="1698.9" y2="1060.8" stroke="#b0b0b0" stroke-width="4.3" stroke-dasharray="4.3 7.1"/>
<line x1="1824.5" y1="1483" x2="1824.5" y2="1060.8" stroke="#b0b0b0" stroke-width="4.3" stroke-dasharray="4.3 7.1"/>
<line x1="1948.1" y1="1483" x2="1948.1" y2="1060.8" stroke="#b0b0b0" stroke-width="4.3" stroke-dasharray="4.3 7.1"/>
<line x1="1330" y1="1229.7" x2="2043.5" y2="1229.7" stroke="#b0b0b0" stroke-width="4.3" stroke-dasharray="4.3 7.1"/>
<line x1="1330" y1="1440.8" x2="2043.5" y2="1440.8" stroke="#000" stroke-width="4.7"/>
<polygon points="1330,1411.7 1346.2,1407.1 1362.4,1406.2 1378.6,1405.2 1394.9,1402.5 1411.1,1399.4 1427.3,1397 1443.5,1402.5 1459.7,1409.8 1475.9,1415.3 1492.2,1419 1508.4,1409.8 1524.6,1405.2 1540.8,1404.3 1557,1399.4 1573.2,1404.3 1589.5,1402.5 1605.7,1423.6 1621.9,1414.4 1638.1,1401.9 1654.3,1402.5 1670.5,1412.6 1686.8,1405 1703,1397 1719.2,1402.5 1735.4,1399.7 1751.6,1399.7 1767.8,1391.4 1784,1397.9 1800.3,1396 1816.5,1393.3 1832.7,1390.5 1848.9,1398.8 1865.1,1395.1 1881.3,1396 1897.6,1392 1913.8,1400.6 1930,1409.8 1946.2,1399.7 1962.4,1396 1978.6,1395.1 1994.9,1397.9 2011.1,1408 2027.3,1396 2043.5,1397.9 2043.5,1437.4 2027.3,1438.3 2011.1,1442 1994.9,1436.5 1978.6,1437.4 1962.4,1441 1946.2,1439.2 1930,1441 1913.8,1439.2 1897.6,1439.2 1881.3,1437.4 1865.1,1437.4 1848.9,1437.4 1832.7,1425.5 1816.5,1436.5 1800.3,1441 1784,1445.7 1767.8,1447.5 1751.6,1443.8 1735.4,1443.8 1719.2,1439.2 1703,1446 1686.8,1443.8 1670.5,1447.5 1654.3,1461.3 1638.1,1443.8 1621.9,1451.2 1605.7,1458.5 1589.5,1461.3 1573.2,1465.9 1557,1475.1 1540.8,1497 1524.6,1499.5 1508.4,1466.8 1492.2,1471.4 1475.9,1459.5 1459.7,1449.4 1443.5,1444.8 1427.3,1440.2 1411.1,1440.2 1394.9,1440.2 1378.6,1440.2 1362.4,1440.2 1346.2,1443.8 1330,1441" fill="#4477AA" fill-opacity="0.3"/>
<polygon points="1330,1372.1 1346.2,1357.4 1362.4,1351 1378.6,1345.5 1394.9,1340.5 1411.1,1308.2 1427.3,1334.5 1443.5,1326.6 1459.7,1359.3 1475.9,1371.2 1492.2,1362.6 1508.4,1379.5 1524.6,1360.2 1540.8,1335 1557,1379.9 1573.2,1360.7 1589.5,1367.5 1605.7,1393.3 1621.9,1375.8 1638.1,1365.2 1654.3,1368.5 1670.5,1375.8 1686.8,1349.2 1703,1387.8 1719.2,1370.3 1735.4,1352.8 1751.6,1339.1 1767.8,1312.4 1784,1286.7 1800.3,1343.6 1816.5,1363 1832.7,1306.9 1848.9,1342.7 1865.1,1318.8 1881.3,1331.7 1897.6,1310 1913.8,1321.6 1930,1237 1946.2,1306.9 1962.4,1342.7 1978.6,1305 1994.9,1307.4 2011.1,1334.5 2027.3,1343.6 2043.5,1344.9 2043.5,1436.5 2027.3,1422.7 2011.1,1441 1994.9,1422.7 1978.6,1426.4 1962.4,1437.4 1946.2,1423.6 1930,1433.7 1913.8,1438.3 1897.6,1437.4 1881.3,1432.8 1865.1,1431 1848.9,1431.9 1832.7,1410.8 1816.5,1436.5 1800.3,1433.7 1784,1456.7 1767.8,1462.2 1751.6,1455.2 1735.4,1457.6 1719.2,1435.6 1703,1449.8 1686.8,1448 1670.5,1467.7 1654.3,1468.7 1638.1,1444.8 1621.9,1454.9 1605.7,1466.8 1589.5,1490.2 1573.2,1505 1557,1515 1540.8,1520 1524.6,1520 1508.4,1515 1492.2,1510 1475.9,1459.5 1459.7,1449.4 1443.5,1444.8 1427.3,1431.9 1411.1,1437.4 1394.9,1431.9 1378.6,1434.6 1362.4,1436.5 1346.2,1446.6 1330,1442" fill="#228833" fill-opacity="0.3"/>
<polyline points="1330,1425.1 1346.2,1423.6 1362.4,1422.7 1378.6,1418.5 1394.9,1425.5 1411.1,1419.4 1427.3,1418.5 1443.5,1423.6 1459.7,1424.9 1475.9,1434.6 1492.2,1443.8 1508.4,1442 1524.6,1448.4 1540.8,1452.1 1557,1449.4 1573.2,1443.8 1589.5,1437.4 1605.7,1440.2 1621.9,1437.4 1638.1,1424.5 1654.3,1429.1 1670.5,1429.6 1686.8,1422.7 1703,1425 1719.2,1420.9 1735.4,1419 1751.6,1419.9 1767.8,1422.7 1784,1419.9 1800.3,1416.6 1816.5,1413.5 1832.7,1411.7 1848.9,1415.3 1865.1,1415.3 1881.3,1414.8 1897.6,1413.5 1913.8,1416.3 1930,1421.8 1946.2,1418.5 1962.4,1419.9 1978.6,1423.6 1994.9,1418.1 2011.1,1424.5 2027.3,1419 2043.5,1419.9" fill="none" stroke="#4477AA" stroke-width="9.2" stroke-linejoin="round" stroke-dasharray="34 14.7"/>
<polyline points="1330,1405.2 1346.2,1407.1 1362.4,1397 1378.6,1387.8 1394.9,1396 1411.1,1385.9 1427.3,1390.5 1443.5,1395.1 1459.7,1403.4 1475.9,1419.9 1492.2,1437.4 1508.4,1437.4 1524.6,1439.2 1540.8,1443.8 1557,1444.8 1573.2,1436.5 1589.5,1429.1 1605.7,1432.8 1621.9,1422.7 1638.1,1409.8 1654.3,1419.9 1670.5,1423.6 1686.8,1402.5 1703,1413 1719.2,1408 1735.4,1404.3 1751.6,1401.6 1767.8,1381.3 1784,1366.6 1800.3,1387.8 1816.5,1392.4 1832.7,1369.4 1848.9,1379.5 1865.1,1370.3 1881.3,1376.7 1897.6,1382.8 1913.8,1375.8 1930,1368.5 1946.2,1369.4 1962.4,1383.5 1978.6,1378.6 1994.9,1370.3 2011.1,1384.1 2027.3,1377.7 2043.5,1389.6" fill="none" stroke="#228833" stroke-width="9.2" stroke-linejoin="round"/>
</g>
<line x1="1451.6" y1="1483" x2="1451.6" y2="1461.5" stroke="#000" stroke-width="4.9"/>
<line x1="1575.1" y1="1483" x2="1575.1" y2="1461.5" stroke="#000" stroke-width="4.9"/>
<line x1="1698.9" y1="1483" x2="1698.9" y2="1461.5" stroke="#000" stroke-width="4.9"/>
<line x1="1824.5" y1="1483" x2="1824.5" y2="1461.5" stroke="#000" stroke-width="4.9"/>
<line x1="1948.1" y1="1483" x2="1948.1" y2="1461.5" stroke="#000" stroke-width="4.9"/>
<line x1="1330" y1="1440.8" x2="1351.5" y2="1440.8" stroke="#000" stroke-width="4.9"/>
<text x="1307" y="1457.4" font-size="47" letter-spacing="-0.5" text-anchor="end">0</text>
<line x1="1330" y1="1335.2" x2="1351.5" y2="1335.2" stroke="#000" stroke-width="4.9"/>
<text x="1308.5" y="1351.8" font-size="47" letter-spacing="-0.5" text-anchor="end">25</text>
<line x1="1330" y1="1229.7" x2="1351.5" y2="1229.7" stroke="#000" stroke-width="4.9"/>
<text x="1307" y="1246.3" font-size="47" letter-spacing="-0.5" text-anchor="end">50</text>
<line x1="1330" y1="1124.1" x2="1351.5" y2="1124.1" stroke="#000" stroke-width="4.9"/>
<text x="1308.5" y="1140.7" font-size="47" letter-spacing="-0.5" text-anchor="end">75</text>
<rect x="1758.7" y="1060.8" width="284.8" height="83.7" fill="#fff" fill-opacity="0.9" stroke="#000" stroke-width="3.8"/>
<rect x="1330" y="1060.8" width="713.5" height="422.3" fill="none" stroke="#000" stroke-width="5"/>
<text x="1354.5" y="1114" font-size="54.7">(f)</text>
<text y="1116.8" font-size="54.7"><tspan x="1774.8">32</tspan><tspan x="1840" dy="3" font-size="58.5">°</tspan><tspan x="1857.6" dy="-3">–</tspan><tspan x="1887.8">35</tspan><tspan x="1954.2" dy="3" font-size="58.5">° </tspan><tspan x="1985.7" dy="-3">N</tspan></text>
<text x="1354.7" y="1537.2" font-size="47" letter-spacing="-0.4">Jan</text>
<text x="1474" y="1537.2" font-size="47" letter-spacing="-0.4">Mar</text>
<text x="1593.7" y="1537.2" font-size="47" letter-spacing="-0.4">May</text>
<text x="1731.9" y="1537.2" font-size="47" letter-spacing="-0.4">Jul</text>
<text x="1845.3" y="1537.2" font-size="47" letter-spacing="-0.4">Sep</text>
<text x="1967.9" y="1537.2" font-size="47" letter-spacing="-0.4">Nov</text>
<text y="66" font-size="54.7"><tspan x="674.8">Chl-</tspan><tspan x="777.4" font-style="italic">a </tspan><tspan x="821.8">[mg </tspan><tspan x="921.5">m</tspan><tspan x="968" dy="-20.6" font-size="40" font-family="'DejaVu Sans', sans-serif">−</tspan><tspan x="1001.3" dy="-2" font-size="39">3</tspan><tspan x="1025.6" dy="22.6">]</tspan></text>
<text y="66" font-size="54.7"><tspan x="1477.6">Excess </tspan><tspan x="1668.7">Chl-</tspan><tspan x="1771.8" font-style="italic">a </tspan><tspan x="1816.5">[%]</tspan></text>
<line x1="21.9" y1="231.2" x2="100" y2="231.2" stroke="#EE6677" stroke-width="9.2" stroke-dasharray="10.7 8.6" stroke-dashoffset="2.7"/>
<line x1="21.9" y1="296.6" x2="100" y2="296.6" stroke="#4477AA" stroke-width="9.2" stroke-dasharray="34 14.7"/>
<line x1="17.3" y1="362.5" x2="104.6" y2="362.5" stroke="#228833" stroke-width="9.2"/>
<text x="135.3" y="247" font-size="46">Background</text>
<text x="138.2" y="313" font-size="45.7">Weak fronts</text>
<text x="136.2" y="379" font-size="45.7">Strong fronts</text>
</svg></body></html>
